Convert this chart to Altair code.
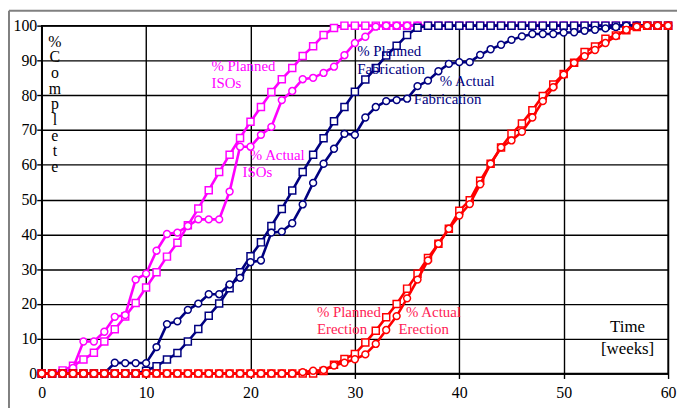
import altair as alt
import pandas as pd

weeks = list(range(61))

planned_isos = [0, 0, 0.9, 2.2, 4.0, 6.0, 9.2, 12.7, 16.4, 20.3, 24.7, 29.1, 33.6, 37.6, 42.6,
                47.4, 52.7, 57.9, 62.9, 67.7, 72.4, 76.6, 80.9, 84.6, 87.8, 91.3, 94.1, 97.3, 99.3,
                100, 100, 100, 100, 100, 100, 100, 100, 100, 100, 100, 100, 100, 100, 100, 100,
                100, 100, 100, 100, 100, 100, 100, 100, 100, 100, 100, 100, 100, 100, 100, 100]

actual_isos = [0, 0, 0, 1.6, 9.2, 9.2, 12.0, 16.3, 16.8, 27.0, 28.7, 35.3, 40.1, 40.5, 42.4,
               44.3, 44.3, 44.3, 52.3, 65.2, 65.2, 68.6, 70.9, 78.6, 81.2, 84.6, 85.0, 86.4, 88.2,
               91.5, 95.0, 96.8, 99.7, 100, 100, 100, 100, 100, 100, 100, 100, 100, 100, 100, 100,
               100, 100, 100, 100, 100, 100, 100, 100, 100, 100, 100, 100, 100, 100, 100, 100]

planned_fab = [0, 0, 0, 0, 0, 0, 0, 0, 0, 0, 0.8, 2.1, 4.0, 5.9, 9.2, 12.8, 16.6, 20.1, 24.5,
               29.1, 33.7, 37.7, 42.4, 47.3, 52.6, 57.9, 62.9, 67.6, 72.5, 76.6, 81.0, 84.5, 87.8,
               91.4, 94.2, 97.3, 99.4, 100, 100, 100, 100, 100, 100, 100, 100, 100, 100, 100, 100,
               100, 100, 100, 100, 100, 100, 100, 100, 100, 100, 100, 100]

actual_fab = [0, 0, 0, 0, 0, 0, 0, 3.1, 3.0, 3.0, 3.0, 7.6, 14.2, 15.0, 18.3, 20.1, 22.8, 22.8,
              25.6, 27.5, 32.0, 32.5, 40.5, 40.8, 43.2, 48.6, 54.8, 60.3, 64.6, 68.9, 68.6, 73.6,
              76.6, 78.3, 78.6, 79.0, 82.6, 84.2, 86.9, 89.0, 89.5, 89.5, 91.6, 93.2, 94.5, 95.9,
              96.9, 97.6, 97.6, 97.6, 98.0, 98.1, 98.5, 98.8, 99.2, 99.6, 100, 100, 100, 100, 100]

planned_erection = [0, 0, 0, 0, 0, 0, 0, 0, 0, 0, 0, 0, 0, 0, 0, 0, 0, 0, 0, 0, 0, 0, 0, 0, 0, 0, 0,
                    0.7, 2.5, 4.2, 5.6, 8.9, 12.3, 16.2, 20.0, 24.4, 28.7, 33.2, 37.3, 41.6, 46.8,
                    49.8, 55.4, 60.3, 65.0, 68.9, 71.9, 75.7, 79.8, 83.1, 86.1, 89.3, 92.4, 94.0,
                    96.2, 97.2, 98.7, 99.6, 100, 100, 100]

actual_erection = [0, 0, 0, 0, 0, 0, 0, 0, 0, 0, 0, 0, 0, 0, 0, 0, 0, 0, 0, 0, 0, 0, 0, 0, 0,
                   0.4, 0.8, 1.0, 2.3, 3.1, 4.1, 5.5, 8.5, 12.5, 16.5, 21.6, 27.0, 32.5, 37.3, 41.6,
                   45.4, 48.7, 54.4, 60.3, 65.0, 67.0, 69.5, 73.6, 78.3, 82.3, 85.9, 89.3, 91.2,
                   93.0, 95.0, 97.0, 98.8, 99.7, 100, 100, 100]

x_ticks = [0, 10, 20, 30, 40, 50, 60]
y_ticks = [0, 10, 20, 30, 40, 50, 60, 70, 80, 90, 100]

MAG = "#ff00ff"
NAVY = "#000080"
RED = "#ff0000"
RED_TXT = "#ff2255"
FONT = "Liberation Serif"

W, H = 632, 351

series = [
    ("Planned ISOs", planned_isos, MAG, "square"),
    ("Actual ISOs", actual_isos, MAG, "circle"),
    ("Planned Fabrication", planned_fab, NAVY, "square"),
    ("Actual Fabrication", actual_fab, NAVY, "circle"),
    ("Planned Erection", planned_erection, RED, "square"),
    ("Actual Erection", actual_erection, RED, "circle"),
]

x_scale = alt.Scale(domain=[0, 60], nice=False, zero=False)
y_scale = alt.Scale(domain=[0, 100], nice=False)

x_axis = alt.Axis(values=x_ticks, grid=True, gridColor="black", gridWidth=1.4,
                  domainColor="black", domainWidth=1.5, tickColor="black", tickSize=5,
                  tickWidth=1.4, labelFont=FONT, labelFontSize=16, labelColor="black",
                  labelPadding=6, labelFlush=False, title=None)
y_axis = alt.Axis(values=y_ticks, grid=True, gridColor="black", gridWidth=1.4,
                  domainColor="black", domainWidth=1.5, tickColor="black", tickSize=5,
                  tickWidth=1.4, labelFont=FONT, labelFontSize=16, labelColor="black",
                  labelPadding=0, labelFlush=False, title=None)


def xe():
    return alt.X("week:Q", scale=x_scale, axis=x_axis)


def ye():
    return alt.Y("pct:Q", scale=y_scale, axis=y_axis)


layers = []
for name, vals, color, shape in series:
    df = pd.DataFrame({"week": weeks, "pct": vals})
    base = alt.Chart(df)
    layers.append(base.mark_line(color=color, strokeWidth=2.6).encode(x=xe(), y=ye()))
    layers.append(base.mark_point(shape=shape, filled=True, fill="white", stroke=color,
                                  strokeWidth=1.5, size=50 if shape == "square" else 48,
                                  opacity=1).encode(x=xe(), y=ye()))


def px(week):
    return week / 60 * W


def py(pct):
    return H - pct / 100 * H


one = pd.DataFrame({"a": [0]})

# outer frame (top and left)
layers.append(alt.Chart(one).mark_rule(color="#808080", strokeWidth=2).encode(
    x=alt.value(-33), y=alt.value(-15), y2=alt.value(420)))
layers.append(alt.Chart(one).mark_rule(color="#808080", strokeWidth=2).encode(
    x=alt.value(-33), x2=alt.value(700), y=alt.value(-15)))

annotations = [
    ("% Planned", 16.26, 88.5, MAG, "left", 15),
    ("ISOs", 16.26, 83.6, MAG, "left", 15),
    ("% Actual", 19.94, 62.9, MAG, "left", 15),
    ("ISOs", 19.24, 57.9, MAG, "left", 15),
    ("% Planned", 30.22, 92.8, NAVY, "left", 15),
    ("Fabrication", 30.22, 87.5, NAVY, "left", 15),
    ("% Actual", 38.13, 84.2, NAVY, "left", 15),
    ("Fabrication", 35.63, 79.0, NAVY, "left", 15),
    ("% Planned", 26.36, 17.7, RED_TXT, "left", 15),
    ("Erection", 26.36, 12.8, RED_TXT, "left", 15),
    ("% Actual", 34.9, 17.6, RED_TXT, "left", 15),
    ("Erection", 34.18, 12.8, RED_TXT, "left", 15),
    ("Time", 56.12, 13.3, "black", "center", 17),
    ("[weeks]", 56.12, 7.1, "black", "center", 17),
]

for txt, ax, ay, color, align, fs in annotations:
    layers.append(alt.Chart(one).mark_text(
        text=txt, font=FONT, fontSize=fs, color=color, align=align, baseline="middle"
    ).encode(x=alt.value(px(ax)), y=alt.value(py(ay))))

# vertical y title: "% Complete" stacked letters (first line position given)
layers.append(alt.Chart(one).mark_text(
    text=["%", "C", "o", "m", "p", "l", "e", "t", "e"], font=FONT, fontSize=16, color="black",
    align="center", baseline="middle", lineHeight=15.8
).encode(x=alt.value(px(1.26)), y=alt.value(py(95.4))))

chart = alt.layer(*layers).properties(
    width=W, height=H,
    padding={"left": 34, "top": 16, "right": 9, "bottom": 33},
    autosize=alt.AutoSizeParams(type="none"),
    background="white",
).configure_view(stroke="black", strokeWidth=1.5)

chart.save("out.html", embed_options={"renderer": "svg", "actions": False})
